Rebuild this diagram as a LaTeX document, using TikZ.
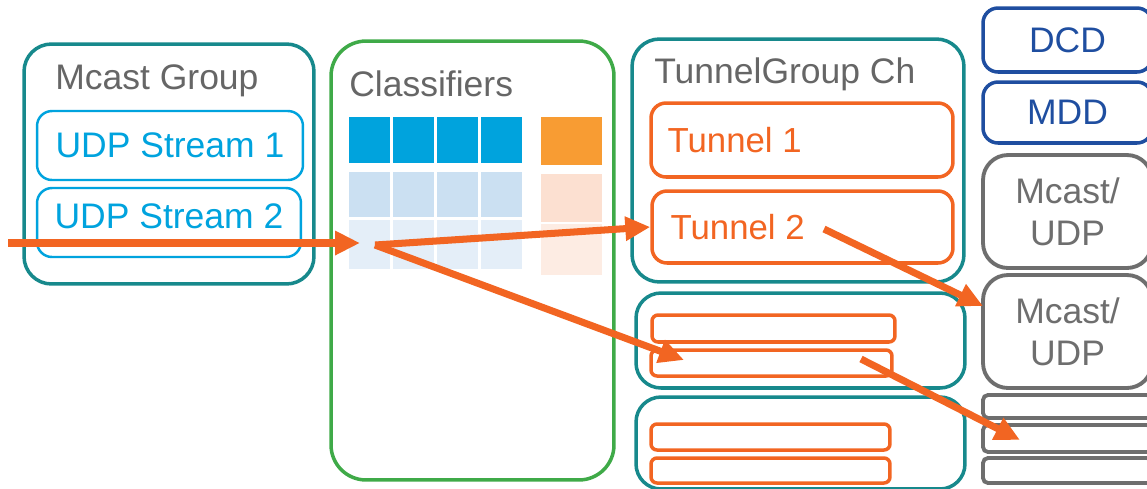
\documentclass[tikz,border=0pt]{standalone}
\usepackage{fontspec}
\setmainfont{Liberation Sans}
\usetikzlibrary{arrows.meta, positioning}
\definecolor{grpteal}{RGB}{23,137,140}
\definecolor{udpblue}{RGB}{0,163,222}
\definecolor{clsgreen}{RGB}{63,170,72}
\definecolor{tunorange}{RGB}{242,101,34}
\definecolor{dcdblue}{RGB}{31,78,160}
\definecolor{boxgray}{RGB}{110,110,110}
\definecolor{titlegray}{RGB}{102,102,102}
\definecolor{cellA}{RGB}{0,163,221}
\definecolor{cellB}{RGB}{203,224,242}
\definecolor{cellC}{RGB}{228,238,248}
\definecolor{cellD}{RGB}{248,156,51}
\definecolor{cellE}{RGB}{252,224,209}
\definecolor{cellF}{RGB}{253,236,227}
\tikzstyle{grp} = [draw=grpteal, line width=2pt, rounded corners=0.55cm]
\tikzstyle{cls} = [draw=clsgreen, line width=2pt, rounded corners=0.7cm]
\tikzstyle{udp} = [draw=udpblue, line width=1.4pt, rounded corners=0.3cm, minimum height=1.38cm, text=udpblue, font=\fontsize{20.2}{24}\selectfont]
\tikzstyle{tun} = [draw=tunorange, line width=2pt, rounded corners=0.3cm]
\tikzstyle{bar} = [draw=tunorange, line width=2pt, rounded corners=0.12cm, inner sep=0pt]
\tikzstyle{dbox} = [draw=dcdblue, line width=2pt, rounded corners=0.3cm, minimum width=3.38cm, text=dcdblue, font=\fontsize{20.2}{24}\selectfont]
\tikzstyle{mu} = [draw=boxgray, line width=2.2pt, rounded corners=0.5cm, minimum width=3.38cm, minimum height=2.26cm, align=center, text=boxgray, font=\fontsize{20.2}{23.8}\selectfont]
\tikzstyle{gbar} = [draw=boxgray, line width=2.2pt, rounded corners=0.1cm, minimum width=3.38cm, inner sep=0pt]
\tikzstyle{title} = [anchor=west, inner sep=0pt, text=titlegray, font=\fontsize{20.2}{24}\selectfont]
\tikzstyle{ttext} = [inner sep=0pt, text=tunorange, font=\fontsize{19.8}{23}\selectfont]
\tikzstyle{arrow} = [draw=tunorange, line width=4pt, -{Triangle[length=0.5cm, width=0.46cm]}]

\begin{document}
\begin{tikzpicture}[x=0.02cm, y=-0.02cm]
\clip (0,0) rectangle (1147,488);

\node [grp, minimum width=5.8cm, minimum height=4.8cm] (mgrp) at (169,164) {};
\node [title] at (55,81) {Mcast Group};
\node [udp, minimum width=5.32cm] (udp1) at (170,145.5) {UDP Stream 1};
\node [udp, minimum width=5.28cm, text depth=0.24cm] (udp2) at (169,222.5) {UDP Stream 2};

\node [cls, minimum width=5.66cm, minimum height=8.78cm] (clsbox) at (472.5,260.5) {};
\node [title] at (349,84) {Classifiers};
\foreach \x in {349,393,437,481} {
  \fill [cellA] (\x,117) rectangle +(41,46);
  \fill [cellB] (\x,172) rectangle +(41,45);
  \fill [cellC] (\x,220) rectangle +(41,49);
}
\fill [cellD] (541,117) rectangle (602,165);
\fill [cellE] (541,174) rectangle (602,222);
\fill [cellF] (541,224) rectangle (602,275);

\node [grp, minimum width=6.64cm, minimum height=4.86cm] (tgrp) at (798,160.5) {};
\node [title] at (654,74) {TunnelGroup Ch};
\node [tun, minimum width=6.04cm, minimum height=1.48cm] (tun1) at (802,140) {};
\node [ttext, right=0.36cm of tun1.west] {Tunnel 1};
\node [tun, minimum width=6.02cm, minimum height=1.44cm] (tun2) at (802.5,227) {};
\node [ttext, right=0.4cm of tun2.west] (tun2txt) {Tunnel 2};

\node [grp, rounded corners=0.5cm, minimum width=6.58cm, minimum height=1.9cm] (grpb) at (800.5,340.5) {};
\node [bar, minimum width=4.86cm, minimum height=0.54cm] (bar1) at (773.5,328.5) {};
\node [bar, minimum width=4.82cm, minimum height=0.52cm] (bar2) at (771.5,363) {};
\node [grp, rounded corners=0.5cm, minimum width=6.58cm, minimum height=1.84cm] (grpc) at (800.5,443) {};
\node [bar, minimum width=4.78cm, minimum height=0.52cm] (bar3) at (770.5,437) {};
\node [bar, minimum width=4.78cm, minimum height=0.5cm] (bar4) at (770.5,470.5) {};

\node [dbox, minimum height=1.28cm] (dcd) at (1067.5,40) {DCD};
\node [dbox, minimum height=1.22cm] (mdd) at (1067.5,112.5) {MDD};
\node [mu] (mu1) at (1067.5,211.5) {Mcast/\\UDP};
\node [mu] (mu2) at (1067.5,331.5) {Mcast/\\UDP};
\node [gbar, minimum height=0.46cm] (gb1) at (1067.5,406.5) {};
\node [gbar, minimum height=0.54cm] (gb2) at (1067.5,438.5) {};
\node [gbar, minimum height=0.5cm] (gb3) at (1067.5,470.5) {};

\coordinate (src) at (8,243);
\coordinate (hit) at (360,243);
\coordinate (fork) at (375,245);
\coordinate (bar2in) at (684,360);
\coordinate (t2end) at (824,229);
\coordinate (mu2in) at (983,306);
\coordinate (b2end) at (861,359);
\coordinate (gb2in) at (1020,440);

\path [arrow] (src) -- (hit);
\path [arrow] (fork) -- (tun2.west);
\path [arrow] (fork) -- (bar2in);
\path [arrow] (t2end) -- (mu2in);
\path [arrow] (b2end) -- (gb2in);
\end{tikzpicture}
\end{document}
